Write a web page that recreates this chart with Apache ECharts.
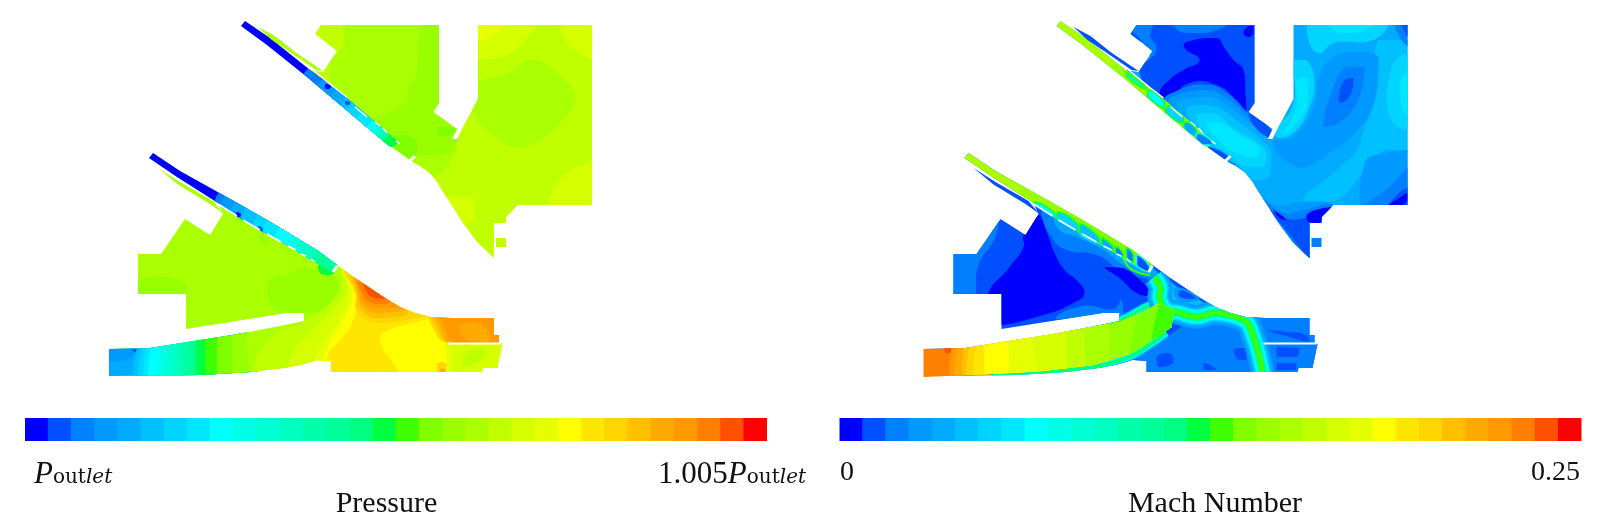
<!DOCTYPE html>
<html>
<head>
<meta charset="utf-8">
<title>Pressure and Mach number contours</title>
<script src="https://cdn.jsdelivr.net/npm/echarts@6/dist/echarts.min.js"></script>
<style>
html, body { margin: 0; padding: 0; background: #fff; }
#main { width: 1600px; height: 530px; }
</style>
</head>
<body>
<div id="main"></div>
<script>
// colour levels of the legend bars, blue to red
var levelColors = ['#0000ff', '#0050ff', '#0080ff', '#0099ff', '#00aaff', '#00c0ff', '#00d5ff', '#00e6ff',
    '#00ffff', '#00ffe6', '#00ffd5', '#00ffc0', '#00ffaa', '#00ff99', '#00ff80', '#00ff40',
    '#40ff00', '#80ff00', '#99ff00', '#aaff00', '#c0ff00', '#d5ff00', '#e6ff00', '#ffff00',
    '#ffe600', '#ffd500', '#ffc000', '#ffaa00', '#ff9900', '#ff8000', '#ff5000', '#ff0000'];
var barLevels = [0, 1, 2, 3, 4, 5, 6, 7, 8, 9, 10, 11, 12, 13, 14, 15, 16, 17, 18, 19, 20, 21, 22, 23, 24, 25, 26, 27, 28, 29, 30, 31];
var barHeights = [1, 1, 1, 1, 1, 1, 1, 1, 1, 1, 1, 1, 1, 1, 1, 1, 1, 1, 1, 1, 1, 1, 1, 1, 1, 1, 1, 1, 1, 1, 1, 1];

var pressureTicks = ['{p|P}{o|out}{i|let}', '{n|1.005}{p|P}{o|out}{i|let}'];
var machTicks = ['0', '0.25'];
var panelTitles = ['Pressure', 'Mach Number'];

// outlines of the flow passages, traced in panel coordinates
var outlines = {
    upper: [[321, 25], [439, 25], [439, 103], [433, 112], [457, 129], [452, 139], [457, 139], [462, 129], [478, 99], [478, 25], [592, 25], [592, 205], [518, 205], [506, 217], [506, 223], [494, 223], [494, 258], [477, 242], [463, 223], [453, 207], [443, 192], [437, 182], [430, 173], [420, 166], [413, 162], [392, 147], [388, 145], [307, 77], [267, 45], [241, 26], [245, 21], [270, 38], [310, 70], [323, 72], [337, 51], [315, 34]],
    upperDuct: [[241, 26], [245, 21], [270, 38], [310, 70], [335, 88], [398, 142], [392, 147], [388, 145], [307, 77], [267, 45]],
    upperSliver: [[258, 27], [275, 36], [295, 52], [323, 71], [316, 70], [290, 52], [272, 40]],
    lower: [[153, 153], [180, 171], [232, 200], [267, 220], [317, 250], [337, 265], [352, 276], [370, 288], [385, 298], [400, 307], [415, 313], [430, 317], [450, 318], [494, 318], [494, 335], [499, 335], [499, 343], [502, 344], [497, 368], [483, 368], [482, 372], [331, 372], [331, 361], [317, 360], [300, 365], [283, 368], [250, 372], [200, 375], [109, 376], [109, 349], [150, 348], [233, 335], [280, 326], [304, 321], [304, 313], [287, 313], [186, 329], [186, 294], [138, 294], [138, 254], [161, 254], [185, 219], [210, 235], [223, 214], [218, 203], [177, 177], [149, 158]],
    lowerDuct: [[149, 158], [153, 153], [180, 171], [232, 200], [267, 220], [317, 250], [337, 265], [333, 272], [317, 263], [303, 255], [287, 245], [263, 232], [238, 217], [218, 203], [177, 177]],
    lowerSliver: [[158, 168], [180, 182], [213, 201], [224, 214], [210, 204], [178, 184.5]],
    jet: [[108, 349], [150, 348], [194, 341], [244, 333], [304, 322], [328, 312], [344, 303], [358, 310], [356, 327], [328, 346], [314, 354], [278, 365], [228, 371], [178, 374], [108, 377]],
    square: [[496, 238], [506, 238], [506, 247], [496, 247]]
};

// [level, outline it stays inside, contour points, ribbon width, edge level]
var pressurePatches = [
    [20, 'upper'],
    [19, 'upper', [[350, 20], [445, 20], [445, 110], [458, 140], [452, 160], [443, 172], [425, 178], [412, 168], [330, 80], [330, 62], [342, 48]]],
    [18, 'upper', [[427, 20], [445, 20], [445, 110], [458, 130], [456, 143], [448, 153], [430, 155], [413, 155], [395, 150], [370, 127], [370, 120], [387, 115], [407, 100], [408, 90], [417, 73], [418, 43]]],
    [17, 'upper', [[437, 127], [457, 129], [447, 136], [437, 135]]],
    [17, 'upper', [[390, 135], [405, 135], [417, 143], [412, 160], [392, 147]]],
    [19, 'upper', [[472, 87], [507, 73], [533, 60], [557, 73], [575, 98], [560, 123], [537, 142], [517, 148], [497, 138], [472, 110]]],
    [21, 'upper', [[470, 20], [540, 20], [525, 40], [507, 55], [478, 60], [470, 60]]],
    [22, 'upper', [[470, 20], [510, 20], [495, 33], [478, 42], [470, 42]]],
    [21, 'upper', [[560, 20], [600, 20], [600, 62], [575, 50], [565, 38]]],
    [21, 'upper', [[600, 160], [600, 210], [548, 207], [560, 180], [585, 163]]],
    [21, 'upper', [[447, 197], [470, 197], [475, 210], [470, 223], [462, 225]]],

    [0, 'upperDuct'],
    [2, 'upperDuct', [[315, 67], [301, 83], [420, 175], [420, 120]]],
    [3, 'upperDuct', [[329, 78], [315, 94], [420, 175], [420, 120]]],
    [4, 'upperDuct', [[342, 89], [328, 105], [420, 175], [420, 120]]],
    [5, 'upperDuct', [[352, 97], [338, 113], [420, 175], [420, 120]]],
    [6, 'upperDuct', [[359, 102], [345, 118], [420, 175], [420, 120]]],
    [7, 'upperDuct', [[369, 110], [355, 126], [420, 175], [420, 120]]],
    [8, 'upperDuct', [[379, 118], [365, 134], [420, 175], [420, 120]]],
    [10, 'upperDuct', [[385, 123], [371, 139], [420, 175], [420, 120]]],
    [12, 'upperDuct', [[390, 127], [376, 143], [420, 175], [420, 120]]],
    [15, 'upperDuct', [[395, 131], [381, 147], [420, 175], [420, 120]]],
    [0, 'upperDuct', [[325, 84], [331, 86], [329, 89], [325, 88]]],
    [1, 'upperDuct', [[345, 101], [350, 102], [349, 105], [345, 104]]],
    [19, 'upperSliver'],

    [19, 'lower'],
    [18, 'lower', [[138, 280], [160, 277], [180, 280], [187, 288], [186, 300], [130, 300]]],
    [18, 'lower', [[267, 290], [270, 280], [293, 272], [300, 268], [313, 270], [327, 272], [340, 283], [338, 297], [327, 308], [305, 313], [287, 313], [270, 303]]],
    [17, 'lower', [[238, 217], [245, 222], [240, 222]]],
    [18, 'lower', [[260, 233], [270, 242], [260, 243]]],
    [18, 'lower', [[282, 243], [288, 252], [283, 252]]],
    [18, 'lower', [[302, 253], [307, 263], [302, 263]]],
    [15, 'lower', [[318, 265], [335, 270], [330, 275], [320, 273]]],

    [4, 'lower', [[105, 332], [260, 332], [260, 380], [105, 380]]],
    [3, 'lower', [[105, 345], [130, 345], [135, 352], [125, 360], [105, 362]]],
    [1, 'lower', [[132, 349], [143, 349], [138, 353]]],
    [5, 'lower', [[149, 332], [133, 380], [260, 380], [260, 332]]],
    [6, 'lower', [[154, 332], [138, 380], [260, 380], [260, 332]]],
    [7, 'lower', [[157, 332], [143, 380], [260, 380], [260, 332]]],
    [8, 'lower', [[159, 332], [148, 380], [260, 380], [260, 332]]],
    [9, 'lower', [[166, 332], [158, 380], [260, 380], [260, 332]]],
    [10, 'lower', [[170, 332], [165, 380], [260, 380], [260, 332]]],
    [11, 'lower', [[177, 332], [172, 380], [260, 380], [260, 332]]],
    [12, 'lower', [[183, 332], [180, 380], [260, 380], [260, 332]]],
    [13, 'lower', [[188, 332], [187, 380], [260, 380], [260, 332]]],
    [14, 'lower', [[193, 332], [193, 380], [260, 380], [260, 332]]],
    [15, 'lower', [[197, 332], [197, 380], [260, 380], [260, 332]]],
    [16, 'lower', [[205, 332], [206, 380], [260, 380], [260, 332]]],
    [17, 'lower', [[217, 332], [217, 380], [260, 380], [260, 332]]],
    [18, 'lower', [[232, 332], [233, 380], [260, 380], [260, 332]]],
    [19, 'lower', [[247, 332], [252, 380], [330, 380], [330, 332]]],

    [20, 'lower', [[253, 377], [257, 357], [277, 333], [305, 321], [330, 303], [340, 287], [340, 272], [345, 265], [530, 260], [530, 390], [253, 390]]],
    [21, 'lower', [[287, 377], [290, 357], [313, 330], [333, 310], [345, 290], [342, 270], [345, 260], [530, 260], [530, 390], [287, 390]]],
    [22, 'lower', [[313, 367], [320, 347], [337, 323], [348, 300], [346, 277], [341, 262], [530, 260], [530, 390], [313, 390]]],
    [23, 'lower', [[323, 363], [330, 343], [343, 320], [352, 297], [348, 278], [343, 262], [530, 260], [530, 390], [323, 390]]],
    [24, 'lower', [[330, 373], [327, 357], [340, 340], [352, 323], [357, 300], [352, 280], [347, 265], [433, 313], [433, 317], [383, 333], [382, 347], [393, 363], [397, 376], [330, 376]]],
    [25, 'lower', [[437, 365], [441, 362], [452, 368], [450, 376], [437, 376]]],
    [27, 'lower', [[440, 369], [447, 369], [450, 376], [440, 376]]],
    [22, 'lower', [[444, 343], [447, 360], [445, 376], [505, 376], [505, 343]]],
    [21, 'lower', [[450, 343], [452, 360], [450, 376], [505, 376], [505, 343]]],
    [20, 'lower', [[463, 357], [477, 348], [487, 353], [477, 363], [465, 368]]],

    [25, 'lower', [[343, 267], [355, 293], [357, 312], [375, 323], [400, 321], [422, 317], [433, 315], [400, 293], [360, 263]]],
    [26, 'lower', [[348, 267], [357, 293], [359, 307], [375, 318], [397, 317], [408, 312], [390, 287], [360, 263]]],
    [27, 'lower', [[353, 270], [358, 293], [362, 305], [375, 313], [393, 312], [405, 308], [390, 287], [363, 267]]],
    [28, 'lower', [[355, 275], [360, 293], [363, 302], [377, 308], [392, 308], [402, 306], [387, 287], [365, 270]]],
    [29, 'lower', [[358, 280], [362, 293], [367, 300], [378, 304], [390, 302], [380, 287], [367, 275]]],
    [30, 'lower', [[363, 283], [367, 292], [373, 298], [385, 299], [373, 287]]],
    [25, 'lower', [[427, 310], [433, 328], [447, 343], [505, 343], [505, 310]]],
    [26, 'lower', [[430, 310], [437, 328], [449, 343], [505, 343], [505, 310]]],
    [27, 'lower', [[433, 310], [440, 328], [452, 343], [505, 343], [505, 310]]],
    [28, 'lower', [[438, 310], [445, 328], [455, 343], [505, 343], [505, 310]]],
    [27, 'lower', [[460, 325], [475, 323], [488, 330], [490, 342], [467, 340], [460, 332]]],

    [0, 'lowerDuct'],
    [2, 'lowerDuct', [[226, 189], [214, 209], [345, 290], [345, 250]]],
    [3, 'lowerDuct', [[232, 193], [220, 213], [345, 290], [345, 250]]],
    [4, 'lowerDuct', [[242, 199], [230, 219], [345, 290], [345, 250]]],
    [5, 'lowerDuct', [[252, 205], [240, 225], [345, 290], [345, 250]]],
    [6, 'lowerDuct', [[264, 212], [252, 232], [345, 290], [345, 250]]],
    [7, 'lowerDuct', [[274, 218], [262, 238], [345, 290], [345, 250]]],
    [8, 'lowerDuct', [[286, 225], [274, 245], [345, 290], [345, 250]]],
    [9, 'lowerDuct', [[298, 232], [286, 252], [345, 290], [345, 250]]],
    [10, 'lowerDuct', [[306, 237], [294, 257], [345, 290], [345, 250]]],
    [11, 'lowerDuct', [[314, 242], [302, 262], [345, 290], [345, 250]]],
    [12, 'lowerDuct', [[322, 247], [310, 267], [345, 290], [345, 250]]],
    [13, 'lowerDuct', [[328, 250], [316, 270], [345, 290], [345, 250]]],
    [0, 'lowerDuct', [[236, 212], [241, 214], [240, 217], [236, 216]]],
    [1, 'lowerDuct', [[258, 226], [263, 229], [262, 232], [258, 230]]],
    [19, 'lowerSliver'],
    [20, 'square']
];

var machPatches = [
    [4, 'upper'],
    [5, 'upper', [[563, 40], [594, 40], [594, 150], [571, 150], [549, 163], [544, 147], [561, 93]]],
    [1, 'upper', [[311, 23], [441, 23], [441, 113], [433, 113], [411, 93], [391, 85], [364, 90], [348, 102], [324, 73], [336, 52], [314, 33]]],
    [2, 'upper', [[311, 23], [336, 23], [335, 37], [341, 47], [336, 57], [328, 43]]],
    [2, 'upper', [[358, 25], [411, 25], [391, 33], [368, 33]]],
    [0, 'upper', [[371, 42], [401, 38], [409, 48], [418, 60], [428, 70], [430, 93], [431, 112], [421, 100], [401, 85], [374, 83], [353, 98], [344, 93], [356, 78], [368, 70], [384, 60], [369, 48]]],
    [0, 'upper', [[428, 33], [433, 26], [438, 26], [438, 33], [433, 37]]],
    [2, 'upper', [[348, 102], [364, 90], [391, 85], [411, 93], [433, 113], [456, 130], [454, 140], [411, 167], [388, 150], [368, 125]]],
    [3, 'upper', [[353, 102], [368, 93], [391, 90], [411, 98], [433, 117], [453, 135], [454, 143], [424, 157], [398, 150], [374, 127]]],
    [4, 'upper', [[361, 105], [374, 98], [394, 97], [411, 105], [434, 123], [453, 138], [454, 150], [431, 157], [411, 157], [401, 152], [381, 133]]],
    [5, 'upper', [[371, 110], [384, 105], [401, 107], [421, 120], [444, 138], [456, 153], [454, 177], [438, 180], [424, 167], [401, 152], [384, 133]]],
    [6, 'upper', [[381, 115], [398, 113], [421, 130], [441, 142], [451, 153], [448, 167], [431, 167], [411, 153], [391, 137]]],
    [7, 'upper', [[391, 123], [404, 122], [424, 135], [444, 147], [441, 157], [421, 153], [401, 138]]],
    [1, 'upper', [[433, 113], [456, 130], [453, 137], [438, 125]]],
    [1, 'upper', [[388, 147], [398, 148], [414, 158], [409, 162]]],

    [3, 'upper', [[458, 143], [484, 168], [508, 157], [544, 128], [561, 93], [563, 57], [541, 52], [518, 57], [504, 77], [498, 107], [478, 137]]],
    [2, 'upper', [[508, 127], [518, 87], [531, 67], [549, 67], [544, 97], [524, 123]]],
    [1, 'upper', [[523, 100], [529, 80], [538, 78], [536, 93], [526, 103]]],
    [6, 'upper', [[479, 60], [491, 60], [499, 83], [494, 107], [481, 130], [464, 138], [459, 133], [478, 103]]],
    [7, 'upper', [[481, 80], [491, 77], [493, 100], [481, 123], [468, 135], [481, 107]]],
    [6, 'upper', [[491, 23], [574, 23], [558, 40], [518, 43], [504, 53], [494, 43]]],
    [7, 'upper', [[511, 23], [561, 23], [544, 32], [524, 33]]],
    [2, 'upper', [[579, 23], [594, 23], [594, 47], [586, 40]]],
    [1, 'upper', [[586, 23], [594, 23], [594, 38]]],
    [6, 'upper', [[573, 80], [581, 60], [594, 53], [594, 130], [578, 123], [571, 100]]],
    [7, 'upper', [[584, 83], [594, 70], [594, 117], [586, 107]]],
    [5, 'upper', [[488, 200], [518, 173], [544, 147], [554, 123], [571, 103], [571, 123], [561, 150], [544, 177], [518, 202]]],
    [3, 'upper', [[544, 207], [549, 163], [571, 153], [594, 150], [594, 207]]],
    [2, 'upper', [[594, 167], [594, 207], [548, 207], [574, 187]]],
    [1, 'upper', [[594, 187], [594, 207], [573, 207]]],
    [0, 'upper', [[573, 205], [584, 198], [592, 193], [592, 200], [586, 205]]],
    [3, 'upper', [[438, 187], [458, 205], [488, 202], [518, 205], [508, 217], [494, 260], [481, 247]]],
    [2, 'upper', [[448, 197], [468, 213], [488, 210], [516, 205], [508, 223], [494, 260], [478, 242]]],
    [1, 'upper', [[454, 210], [468, 218], [489, 218], [518, 207], [508, 223], [494, 260], [484, 247], [468, 227]]],
    [0, 'upper', [[491, 215], [508, 208], [518, 207], [504, 223], [493, 222]]],
    [0, 'upper', [[458, 210], [471, 220], [464, 218]]],

    [19, 'upperDuct'],
    [18, 'upperDuct', [[305, 60], [295, 85], [420, 175], [420, 120]]],
    [17, 'upperDuct', [[355, 95], [340, 115], [420, 175], [420, 120]]],
    [12, 'upperDuct', [[310, 72], [329, 85], [331, 90], [312, 78]], 0, 16],
    [8, 'upperDuct', [[334, 90], [349, 102], [348, 108], [332, 96]], 0, 15],
    [6, 'upperDuct', [[353, 106], [368, 117], [367, 123], [350, 112]], 0, 15],
    [4, 'upperDuct', [[371, 122], [381, 130], [379, 136], [368, 127]], 0, 15],
    [2, 'upperDuct', [[384, 133], [399, 145], [388, 145], [380, 138]], 0, 8],
    [1, 'upperSliver'],

    [1, 'lower'],
    [2, 'lower', [[130, 250], [161, 250], [184, 215], [180, 237], [163, 265], [156, 300], [130, 300]]],
    [2, 'lower', [[226, 215], [236, 237], [251, 250], [281, 255], [308, 272], [334, 280], [348, 287], [328, 267], [261, 223], [228, 208]]],
    [4, 'lower', [[238, 218], [244, 230], [264, 238], [291, 252], [311, 267], [334, 277], [343, 273], [308, 253], [261, 227]]],
    [7, 'lower', [[264, 235], [291, 248], [314, 263], [334, 273], [336, 268], [308, 252], [268, 230]]],
    [0, 'lower', [[223, 215], [208, 235], [208, 247], [194, 267], [172, 297], [180, 325], [228, 315], [258, 303], [269, 293], [261, 280], [251, 272], [241, 257], [233, 237], [226, 218]]],
    [0, 'lower', [[289, 267], [308, 268], [328, 283], [336, 290], [333, 296], [321, 293], [304, 278]]],
    [2, 'lower', [[240, 318], [268, 306], [298, 309], [306, 300], [308, 316], [262, 320]]],

    [2, 'lower', [[321, 360], [328, 350], [351, 337], [378, 322], [411, 323], [431, 337], [441, 370], [448, 376], [328, 376]]],
    [1, 'lower', [[418, 350], [429, 348], [431, 360], [423, 360]]],
    [1, 'lower', [[341, 357], [354, 353], [358, 363], [343, 367]]],
    [1, 'lower', [[388, 363], [401, 370], [388, 370]]],
    [5, 'lower', [[346, 277], [374, 295], [414, 313], [434, 318], [388, 320], [351, 307]]],
    [3, 'lower', [[361, 287], [384, 299], [368, 302], [358, 295]]],
    [1, 'lower', [[366, 290], [381, 299], [371, 299], [363, 295]]],
    [2, 'lower', [[438, 312], [500, 312], [505, 344], [448, 344]]],
    [1, 'lower', [[451, 330], [471, 332], [491, 335], [494, 342], [474, 337]]],
    [2, 'lower', [[446, 344], [505, 344], [500, 376], [448, 376]]],
    [1, 'lower', [[461, 347], [484, 348], [481, 357], [461, 357]]],
    [1, 'lower', [[461, 363], [481, 363], [481, 370], [461, 370]]],

    [4, 'lower', [[170, 345], [194, 340], [244, 332], [304, 320], [328, 308], [344, 300]], 9],
    [4, 'lower', [[178, 376], [228, 372], [278, 367], [314, 357], [331, 347], [351, 333]], 9],
    [8, 'lower', [[170, 345], [194, 340], [244, 332], [304, 320], [328, 308], [344, 300]], 6],
    [8, 'lower', [[178, 376], [228, 372], [278, 367], [314, 357], [331, 347], [351, 333]], 6],
    [14, 'lower', [[170, 345], [194, 340], [244, 332], [304, 320], [328, 308], [344, 300]], 4],
    [14, 'lower', [[178, 376], [228, 372], [278, 367], [314, 357], [331, 347], [351, 333]], 4],

    [3, 'lower', [[339, 277], [345, 288], [344, 298], [351, 310], [364, 313], [381, 317], [398, 313], [414, 315], [431, 322], [438, 337], [443, 353], [448, 376]], 24],
    [4, 'lower', [[339, 277], [345, 288], [344, 298], [351, 310], [364, 313], [381, 317], [398, 313], [414, 315], [431, 322], [438, 337], [443, 353], [448, 376]], 20],
    [6, 'lower', [[339, 277], [345, 288], [344, 298], [351, 310], [364, 313], [381, 317], [398, 313], [414, 315], [431, 322], [438, 337], [443, 353], [448, 376]], 16],
    [8, 'lower', [[339, 277], [345, 288], [344, 298], [351, 310], [364, 313], [381, 317], [398, 313], [414, 315], [431, 322], [438, 337], [443, 353], [448, 376]], 13],
    [11, 'lower', [[339, 277], [345, 288], [344, 298], [351, 310], [364, 313], [381, 317], [398, 313], [414, 315], [431, 322], [438, 337], [443, 353], [448, 376]], 10],
    [14, 'lower', [[339, 277], [345, 288], [344, 298], [351, 310], [364, 313], [381, 317], [398, 313], [414, 315], [431, 322], [438, 337], [443, 353], [448, 376]], 7],
    [16, 'lower', [[339, 277], [345, 288], [344, 298], [351, 310], [364, 313], [381, 317], [398, 313], [414, 315], [431, 322], [438, 337], [443, 353], [448, 376]], 4],
    [16, 'lower', [[308, 258], [314, 268], [324, 273], [334, 275]], 2],

    [29, 'jet'],
    [30, 'jet', [[128, 347], [142, 347], [139, 353], [131, 353]]],
    [28, 'jet', [[143, 332], [133, 385], [400, 385], [400, 290]]],
    [27, 'jet', [[148, 332], [139, 385], [400, 385], [400, 290]]],
    [26, 'jet', [[153, 332], [146, 385], [400, 385], [400, 290]]],
    [25, 'jet', [[158, 332], [151, 385], [400, 385], [400, 290]]],
    [24, 'jet', [[163, 332], [158, 385], [400, 385], [400, 290]]],
    [23, 'jet', [[169, 332], [169, 385], [400, 385], [400, 290]]],
    [22, 'jet', [[193, 332], [194, 385], [400, 385], [400, 290]]],
    [21, 'jet', [[218, 326], [228, 385], [400, 385], [400, 290]]],
    [20, 'jet', [[251, 322], [254, 385], [400, 385], [400, 290]]],
    [19, 'jet', [[269, 318], [274, 385], [400, 385], [400, 290]]],
    [18, 'jet', [[294, 312], [298, 385], [400, 385], [400, 290]]],
    [17, 'jet', [[328, 300], [314, 385], [400, 385], [400, 290]]],
    [16, 'jet', [[348, 295], [334, 385], [400, 385], [400, 290]]],

    [19, 'lowerDuct'],
    [18, 'lowerDuct', [[215, 180], [205, 205], [345, 290], [345, 250]]],
    [17, 'lowerDuct', [[262, 210], [250, 235], [345, 290], [345, 250]]],
    [8, 'lowerDuct', [[219, 202], [238, 212], [240, 218], [218, 207]], 0, 15],
    [6, 'lowerDuct', [[243, 212], [261, 223], [263, 231], [241, 218]], 0, 15],
    [5, 'lowerDuct', [[265, 224], [283, 237], [284, 243], [264, 232]], 0, 15],
    [4, 'lowerDuct', [[286, 238], [297, 246], [298, 250], [286, 244]], 0, 15],
    [2, 'lowerDuct', [[300, 247], [306, 251], [308, 257], [300, 253]], 0, 15],
    [2, 'lowerDuct', [[311, 248], [318, 255], [318, 262], [311, 257]], 0, 15],
    [1, 'lowerDuct', [[321, 255], [334, 266], [333, 272], [321, 265]], 0, 8],
    [1, 'lowerSliver'],
    [2, 'square']
];

// slits in the walls, left white in both panels: [width, from, to]
var wallSlits = [
    [1.5, [313, 70], [335, 88]], [1.5, [335, 88], [348, 98]], [1.5, [355, 107], [367, 117]],
    [1.5, [375, 122], [380, 126]], [1.5, [383, 128], [387, 133]], [1.5, [396, 141], [400, 144]],
    [3, [410, 161], [415, 156]],
    [1.5, [218, 204], [237, 216]], [1.5, [243, 220], [260, 230]], [1.5, [267, 234], [281, 242]],
    [1.5, [288, 246], [296, 250]], [1.5, [301, 254], [306, 256]], [1.5, [311, 259], [315, 262]],
    [3, [333, 272], [337, 266]],
    [2, [448, 343.5], [501, 343.5]]
];

function drawPatch(patches) {
    return function (params, api) {
        var patch = patches[params.dataIndex];
        var level = patch[0];
        var inside = outlines[patch[1]].map(function (p) { return api.coord(p); });
        var clip = { type: 'polygon', shape: { points: inside } };
        if (!patch[2]) {
            return { type: 'polygon', shape: { points: inside }, style: { fill: levelColors[level] }, z2: params.dataIndex, silent: true };
        }
        var points = patch[2].map(function (p) { return api.coord(p); });
        // keep the curve's control points inside the contour's own box
        var box = [points[0], points[0]];
        // ribbons are stroked along a path, everything else is a filled contour band
        if (patch[3]) {
            return {
                type: 'polyline', shape: { points: points, smooth: 0.4, smoothConstraint: box }, clipPath: clip, z2: params.dataIndex, silent: true,
                style: { stroke: levelColors[level], lineWidth: patch[3], fill: null, lineCap: 'butt', lineJoin: 'round' }
            };
        }
        var edge = patch[4];
        return {
            type: 'polygon', shape: { points: points, smooth: 0.5, smoothConstraint: box }, clipPath: clip, z2: params.dataIndex, silent: true,
            style: { fill: levelColors[level], stroke: edge !== undefined ? levelColors[edge] : null, lineWidth: edge !== undefined ? 1.5 : 0 }
        };
    };
}

function drawSlit(params, api) {
    var slit = wallSlits[params.dataIndex];
    return {
        type: 'line', silent: true,
        shape: { x1: api.coord(slit[1])[0], y1: api.coord(slit[1])[1], x2: api.coord(slit[2])[0], y2: api.coord(slit[2])[1] },
        style: { stroke: '#fff', lineWidth: slit[0] }
    };
}

function indexes(list) {
    return list.map(function (item, i) { return [i, i]; });
}

function hiddenValueAxis(grid, max, inverse) {
    return { type: 'value', gridIndex: grid, min: 0, max: max, inverse: inverse, show: false };
}

function legendAxis(grid) {
    return {
        type: 'category', gridIndex: grid, data: barLevels,
        axisLine: { show: false }, axisTick: { show: false }, axisLabel: { show: false }
    };
}

function legendBar(axisIndex) {
    return {
        type: 'bar', xAxisIndex: axisIndex, yAxisIndex: axisIndex, data: barHeights,
        barWidth: 24, silent: true,
        itemStyle: { color: function (p) { return levelColors[barLevels[p.dataIndex]]; } }
    };
}

function tickLabel(text, pos) {
    return {
        text: text, padding: 0, left: pos.left, right: pos.right, top: pos.top,
        textStyle: {
            fontFamily: 'Liberation Serif', fontSize: 28, fontWeight: 'normal', color: '#111',
            rich: {
                n: { fontFamily: 'Liberation Serif', fontSize: 31, color: '#111', padding: [0, 0, 6, 0] },
                p: { fontFamily: 'Liberation Serif', fontStyle: 'italic', fontSize: 31, color: '#111', padding: [0, 0, 6, 0] },
                o: { fontFamily: 'DejaVu Serif', fontSize: 20, color: '#111' },
                i: { fontFamily: 'DejaVu Serif', fontStyle: 'italic', fontSize: 20, color: '#111' }
            }
        }
    };
}

function panelTitle(text, center) {
    return {
        text: text, padding: 0, left: center, top: 489, textAlign: 'center',
        textStyle: { fontFamily: 'Liberation Serif', fontSize: 30, fontWeight: 'normal', color: '#111' }
    };
}

var myChart = echarts.init(document.getElementById('main'));

var option = {
    animation: false,
    backgroundColor: '#fff',
    title: [
        tickLabel(pressureTicks[0], { left: 34, top: 459 }),
        tickLabel(pressureTicks[1], { right: 1600 - 806, top: 459 }),
        tickLabel(machTicks[0], { left: 840, top: 459 }),
        tickLabel(machTicks[1], { right: 1600 - 1580, top: 459 }),
        panelTitle(panelTitles[0], 386.5),
        panelTitle(panelTitles[1], 1215)
    ],
    grid: [
        { left: 0, top: 0, width: 800, height: 530 },
        { left: 815.5, top: 0, width: 784.5, height: 530 },
        { left: 25, top: 418, width: 742, height: 23 },
        { left: 839.5, top: 418, width: 742, height: 23 }
    ],
    xAxis: [
        hiddenValueAxis(0, 800, false),
        hiddenValueAxis(1, 784.5, false),
        legendAxis(2),
        legendAxis(3)
    ],
    yAxis: [
        hiddenValueAxis(0, 530, true),
        hiddenValueAxis(1, 530, true),
        hiddenValueAxis(2, 1, false),
        hiddenValueAxis(3, 1, false)
    ],
    series: [
        { type: 'custom', xAxisIndex: 0, yAxisIndex: 0, clip: false, data: indexes(pressurePatches), renderItem: drawPatch(pressurePatches) },
        { type: 'custom', xAxisIndex: 0, yAxisIndex: 0, clip: false, z: 3, data: indexes(wallSlits), renderItem: drawSlit },
        { type: 'custom', xAxisIndex: 1, yAxisIndex: 1, clip: false, data: indexes(machPatches), renderItem: drawPatch(machPatches) },
        { type: 'custom', xAxisIndex: 1, yAxisIndex: 1, clip: false, z: 3, data: indexes(wallSlits), renderItem: drawSlit },
        legendBar(2),
        legendBar(3)
    ]
};

myChart.setOption(option);
</script>
</body>
</html>
